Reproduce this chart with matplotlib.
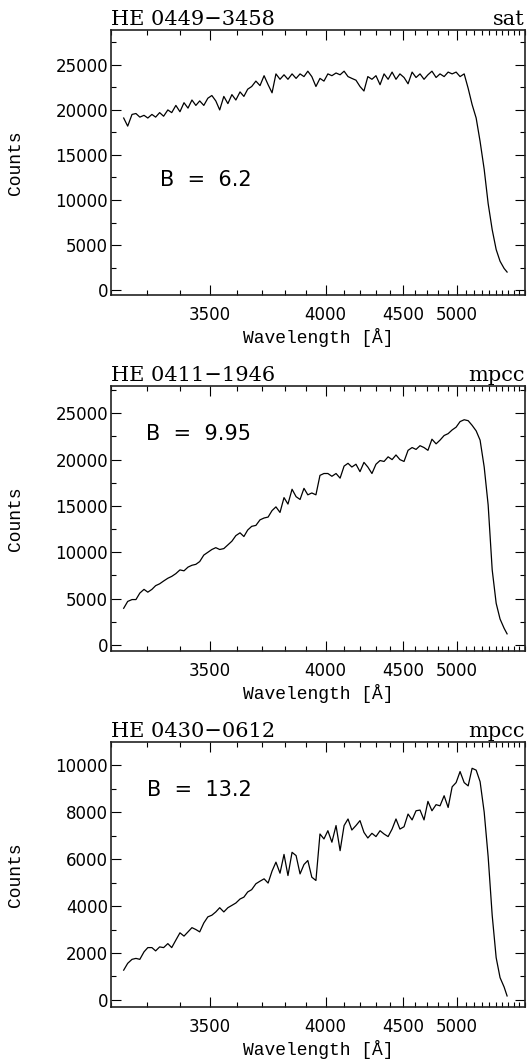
import numpy as np
import matplotlib
matplotlib.use('Agg')
import matplotlib.pyplot as plt
from matplotlib.ticker import FixedLocator, MultipleLocator, FormatStrFormatter

# objective prism spectra, wavelength of each sampled pixel [A]
wave = [3234, 3245, 3257, 3268, 3279, 3291, 3302, 3314, 3325, 3337,
        3349, 3362, 3374, 3387, 3400, 3413, 3426, 3439, 3452, 3465,
        3479, 3493, 3507, 3521, 3535, 3550, 3565, 3580, 3595, 3611,
        3626, 3641, 3657, 3674, 3691, 3708, 3725, 3742, 3759, 3777,
        3795, 3813, 3832, 3851, 3870, 3889, 3908, 3928, 3949, 3970,
        3991, 4012, 4034, 4057, 4080, 4103, 4126, 4149, 4174, 4199,
        4224, 4249, 4276, 4303, 4331, 4359, 4388, 4417, 4446, 4476,
        4508, 4540, 4573, 4606, 4640, 4675, 4710, 4747, 4786, 4824,
        4865, 4906, 4948, 4991, 5035, 5082, 5129, 5177, 5228, 5279,
        5334, 5389, 5447, 5506, 5566, 5631, 5680]

# counts in units of 1000
he0449 = [19.1, 18.2, 19.5, 19.6, 19.2, 19.4, 19.1, 19.5, 19.2, 19.7,
          19.3, 20.0, 19.7, 20.5, 19.8, 20.8, 20.2, 21.1, 20.5, 21.0,
          20.5, 21.3, 21.6, 21.0, 20.0, 21.5, 20.7, 21.7, 21.1, 22.0,
          21.5, 22.3, 22.6, 23.2, 22.7, 23.8, 22.8, 21.9, 24.0, 23.4,
          23.9, 23.4, 24.0, 23.5, 24.0, 23.7, 24.3, 23.7, 22.6, 23.5,
          23.2, 24.0, 23.8, 24.1, 23.9, 24.3, 23.7, 23.5, 23.3, 22.6,
          22.1, 23.7, 23.4, 23.8, 22.8, 24.0, 23.4, 24.2, 23.4, 24.0,
          23.6, 22.9, 24.2, 23.6, 24.0, 23.4, 23.9, 24.3, 23.6, 24.0,
          23.7, 24.2, 24.0, 24.2, 23.7, 24.0, 22.4, 20.6, 19.1, 16.5,
          13.4, 9.6, 6.7, 4.5, 3.2, 2.4, 2.0]

he0411 = [3.96, 4.7, 4.9, 4.9, 5.6, 6.0, 5.7, 6.0, 6.4, 6.6,
          6.9, 7.2, 7.4, 7.7, 8.1, 8.0, 8.4, 8.6, 8.7, 9.0,
          9.7, 10.0, 10.3, 10.5, 10.3, 10.4, 10.8, 11.2, 11.8, 12.1,
          11.7, 12.4, 12.8, 12.9, 13.5, 13.7, 13.8, 14.5, 14.9, 14.3,
          15.9, 15.2, 16.8, 16.0, 15.7, 16.9, 16.2, 16.4, 16.2, 18.3,
          18.5, 18.5, 18.2, 18.5, 18.0, 19.3, 19.6, 19.2, 19.5, 18.7,
          19.7, 19.2, 18.5, 19.5, 19.9, 19.8, 20.3, 20.0, 20.5, 20.0,
          19.8, 21.0, 21.3, 21.1, 21.5, 21.3, 21.0, 22.2, 21.7, 22.1,
          22.6, 22.8, 23.2, 23.5, 24.1, 24.3, 24.2, 23.7, 23.1, 22.1,
          19.2, 15.1, 8.1, 4.5, 2.8, 1.8, 1.2]

he0430 = [1.27, 1.56, 1.73, 1.77, 1.73, 2.05, 2.23, 2.23, 2.09, 2.26,
          2.23, 2.40, 2.23, 2.55, 2.86, 2.72, 2.90, 3.08, 3.00, 2.90,
          3.28, 3.54, 3.61, 3.75, 3.93, 3.75, 3.93, 4.03, 4.13, 4.30,
          4.38, 4.60, 4.70, 4.95, 5.06, 5.16, 4.98, 5.49, 5.87, 5.40,
          6.20, 5.30, 6.29, 6.15, 5.37, 5.77, 5.94, 5.23, 5.09, 7.07,
          6.86, 7.21, 6.72, 7.43, 6.36, 7.43, 7.71, 7.24, 7.43, 7.64,
          7.14, 6.90, 7.10, 6.96, 7.21, 7.07, 6.96, 7.28, 7.71, 7.28,
          7.38, 7.92, 7.67, 8.06, 8.09, 7.67, 8.46, 8.06, 8.32, 8.27,
          8.70, 8.20, 9.08, 9.26, 9.73, 9.26, 9.12, 9.87, 9.79, 9.30,
          8.0, 6.1, 3.6, 1.8, 0.95, 0.55, 0.17]

names = ['HE 0449\u22123458', 'HE 0411\u22121946', 'HE 0430\u22120612']
tags = ['sat', 'mpcc', 'mpcc']
bmags = ['B  =  6.2', 'B  =  9.95', 'B  =  13.2']
spectra = [he0449, he0411, he0430]

# prism dispersion: position ~ quadratic in 1/lambda
K = 0.8454


def fwd(w):
    w = np.clip(np.asarray(w, dtype=float), 100.0, None)
    v = 1e4 / w
    return K * v - v * v


def inv(g):
    g = np.asarray(g, dtype=float)
    with np.errstate(invalid='ignore'):
        v = (K + np.sqrt(np.clip(K * K - 4 * g, 0, None))) / 2
    return 1e4 / v


ylims = [(-550, 28870), (-650, 27940), (-300, 10990)]
ymaj = [5000, 5000, 2000]
ymin = [2500, 2500, 1000]
bpos = [(0.118, 0.434), (0.084, 0.82), (0.086, 0.82)]
bottoms = [0.7222, 0.3870, 0.0518]

W, H = 529, 1062
fig = plt.figure(figsize=(W / 100, H / 100), dpi=100)

for i in range(3):
    ax = fig.add_axes([111 / W, bottoms[i], 414 / W, 265 / H])
    y = [c * 1000 for c in spectra[i]]
    ax.plot(wave, y, '-k', linewidth=0.9)
    ax.set_xscale('function', functions=(fwd, inv))
    ax.set_xlim(3200, 6010)
    ax.set_ylim(*ylims[i])

    ax.xaxis.set_major_locator(FixedLocator([3500, 4000, 4500, 5000]))
    ax.xaxis.set_minor_locator(MultipleLocator(100))
    ax.xaxis.set_major_formatter(FormatStrFormatter('%d'))
    ax.yaxis.set_major_locator(MultipleLocator(ymaj[i]))
    ax.yaxis.set_minor_locator(MultipleLocator(ymin[i]))
    ax.yaxis.set_major_formatter(FormatStrFormatter('%d'))

    ax.tick_params(which='both', direction='in', top=True, right=True,
                   width=0.8, colors='black')
    ax.tick_params(which='major', length=7.2, labelsize=12)
    ax.tick_params(which='minor', length=3.8)
    ax.tick_params(axis='x', which='major', pad=8)
    ax.tick_params(axis='y', which='major', pad=2)
    for lab in ax.get_xticklabels() + ax.get_yticklabels():
        lab.set_family('DejaVu Sans')
    for sp in ax.spines.values():
        sp.set_linewidth(1.2)
        sp.set_color('#222222')

    ax.set_xlabel('Wavelength [\u00c5]', family='Liberation Mono', fontsize=13)
    ax.xaxis.set_label_coords(0.5, -0.125)
    ax.set_ylabel('Counts', family='Liberation Mono', fontsize=13)
    ax.yaxis.set_label_coords(-0.21, 0.5)

    ax.annotate(names[i], xy=(0, 1), xycoords='axes fraction', xytext=(0, 5),
                textcoords='offset pixels', va='baseline', ha='left',
                family='DejaVu Serif', fontsize=15)
    ax.annotate(tags[i], xy=(1, 1), xycoords='axes fraction', xytext=(0, 5),
                textcoords='offset pixels', va='baseline', ha='right',
                family='DejaVu Serif', fontsize=15)
    ax.text(bpos[i][0], bpos[i][1], bmags[i], transform=ax.transAxes,
            ha='left', va='center', family='DejaVu Sans', fontsize=15)

fig.savefig('out.png', dpi=100)
